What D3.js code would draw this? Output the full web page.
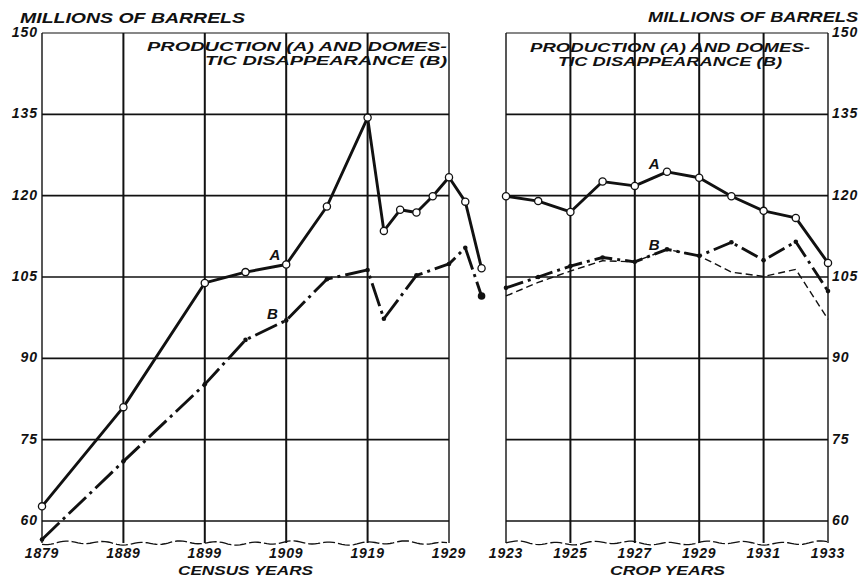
<!DOCTYPE html>
<html>
<head>
<meta charset="utf-8">
<script src="https://cdn.jsdelivr.net/npm/d3@7"></script>
<style>
  body { margin: 0; background: #fff; }
  text { font-family: "Liberation Sans", Arial, sans-serif; font-weight: bold; font-style: italic; fill: #111; }
</style>
</head>
<body>
<svg id="chart" width="862" height="578"></svg>
<script>
// census years panel (left)
var censusYears = [1879, 1889, 1899, 1904, 1909, 1914, 1919, 1921, 1923, 1925, 1927, 1929, 1931, 1933];
var censusA = [62.7, 81.0, 103.9, 105.9, 107.3, 118.0, 134.4, 113.5, 117.4, 116.9, 119.9, 123.4, 118.9, 106.6];
var censusBYears = [1879, 1889, 1899, 1904, 1909, 1914, 1919, 1921, 1925, 1929, 1931, 1933];
var censusB = [56.6, 71.0, 85.2, 93.4, 97.0, 104.6, 106.3, 97.3, 105.3, 107.4, 110.4, 101.5];
var censusTicks = [1879, 1889, 1899, 1909, 1919, 1929];

// crop years panel (right)
var cropYears = [1923, 1924, 1925, 1926, 1927, 1928, 1929, 1930, 1931, 1932, 1933];
var cropA = [119.9, 119.0, 117.0, 122.6, 121.8, 124.4, 123.3, 119.9, 117.2, 115.9, 107.6];
var cropB = [103.0, 105.0, 107.0, 108.6, 107.8, 110.1, 108.9, 111.4, 108.1, 111.5, 102.4];
var cropB2 = [101.5, 104.0, 106.1, 108.0, 107.8, 110.1, 108.9, 105.9, 105.1, 106.4, 97.2];
var cropTicks = [1923, 1925, 1927, 1929, 1931, 1933];

var yTicks = [60, 75, 90, 105, 120, 135, 150];

var svg = d3.select("#chart");
var y = d3.scaleLinear().domain([60, 150]).range([521, 33]);
var xL = d3.scaleLinear().domain([1879, 1929]).range([42, 449]);
var xR = d3.scaleLinear().domain([1923, 1933]).range([506, 828]);
var bottomY = 543;

function wavy(x0, x1, yb) {
    // torn bottom edge of the grid
    var pts = d3.range(x0, x1 + 0.1, 3).map(function(x) {
        return [x, yb + 1.4 * Math.sin(x / 6) + 0.8 * Math.sin(x / 17)];
    });
    return d3.line()(pts);
}

function drawPanel(x, ticks, side) {
    var g = svg.append("g");
    var x0 = x.range()[0], x1 = x.range()[1];

    // horizontal grid
    g.selectAll("line.h").data(yTicks).enter().append("line")
        .attr("x1", x0).attr("x2", x1)
        .attr("y1", function(d) { return y(d); })
        .attr("y2", function(d) { return y(d); })
        .attr("stroke", "#111")
        .attr("stroke-width", function(d) { return d === 150 ? 1.2 : 1.6; });

    // vertical grid
    g.selectAll("line.v").data(ticks).enter().append("line")
        .attr("x1", function(d) { return x(d); })
        .attr("x2", function(d) { return x(d); })
        .attr("y1", y(150)).attr("y2", bottomY)
        .attr("stroke", "#111")
        .attr("stroke-width", function(d, i) { return (i === 0 || i === ticks.length - 1) ? 1.4 : 2; });

    g.append("path")
        .attr("d", wavy(x0, x1, bottomY))
        .attr("fill", "none")
        .attr("stroke", "#111")
        .attr("stroke-width", 1.3)
        .attr("stroke-dasharray", "12,3");

    // y labels
    g.selectAll("text.y").data(yTicks).enter().append("text")
        .attr("x", side === "left" ? x0 - 4 : x1 + 4)
        .attr("y", function(d) { return y(d) + 4; })
        .attr("text-anchor", side === "left" ? "end" : "start")
        .attr("font-size", 14)
        .attr("letter-spacing", 1)
        .text(function(d) { return d; });

    // x labels
    g.selectAll("text.x").data(ticks).enter().append("text")
        .attr("x", function(d) { return x(d); })
        .attr("y", 558)
        .attr("text-anchor", "middle")
        .attr("font-size", 14)
        .attr("letter-spacing", 0.8)
        .text(function(d) { return d; });
    return g;
}

function drawLine(x, xs, ys, opts) {
    var pts = xs.map(function(d, i) { return [x(d), y(ys[i])]; });
    svg.append("path")
        .attr("d", d3.line()(pts))
        .attr("fill", "none")
        .attr("stroke", "#111")
        .attr("stroke-width", opts.width)
        .attr("stroke-dasharray", opts.dash || null)
        .attr("stroke-linejoin", "round");
    if (opts.marker === "open") {
        svg.selectAll(null).data(pts).enter().append("circle")
            .attr("cx", function(d) { return d[0]; })
            .attr("cy", function(d) { return d[1]; })
            .attr("r", 3.6)
            .attr("fill", "#fff")
            .attr("stroke", "#111")
            .attr("stroke-width", 1.3);
    } else if (opts.marker === "dot") {
        svg.selectAll(null).data(pts).enter().append("circle")
            .attr("cx", function(d) { return d[0]; })
            .attr("cy", function(d) { return d[1]; })
            .attr("r", 2.3)
            .attr("fill", "#111");
    }
}

drawPanel(xL, censusTicks, "left");
drawPanel(xR, cropTicks, "right");

drawLine(xL, censusBYears, censusB, {width: 2.9, dash: "24,5,3,5", marker: "dot"});
drawLine(xL, censusYears, censusA, {width: 2.9, marker: "open"});
svg.append("circle")
    .attr("cx", xL(censusBYears[censusBYears.length - 1]))
    .attr("cy", y(censusB[censusB.length - 1]))
    .attr("r", 3.8).attr("fill", "#111");

drawLine(xR, cropYears, cropB2, {width: 1.4, dash: "7,4"});
drawLine(xR, cropYears, cropB, {width: 2.9, dash: "18,5,3,5", marker: "dot"});
drawLine(xR, cropYears, cropA, {width: 2.9, marker: "open"});

// series letters
function letter(t, x, yy) {
    svg.append("text").attr("x", x).attr("y", yy)
        .attr("font-size", 15).attr("text-anchor", "middle").text(t);
}
letter("A", xL(1907.6), y(108.2));
letter("B", xL(1907.3), y(97.2));
letter("A", xR(1927.6), y(125.0));
letter("B", xR(1927.6), y(110.0));

// titles
function label(t, x, yy, len, size) {
    svg.append("text").attr("x", x).attr("y", yy)
        .attr("font-size", size)
        .attr("textLength", len).attr("lengthAdjust", "spacingAndGlyphs")
        .text(t);
}
label("MILLIONS OF BARRELS", 20, 23, 225, 15);
label("MILLIONS OF BARRELS", 648, 22, 210, 15);
label("PRODUCTION (A) AND DOMES-", 147, 51, 300, 13);
label("TIC DISAPPEARANCE (B)", 205, 65, 242, 13);
label("PRODUCTION (A) AND DOMES-", 530, 52, 280, 13);
label("TIC DISAPPEARANCE (B)", 558, 66, 224, 13);
label("CENSUS YEARS", 178, 575, 135, 13);
label("CROP YEARS", 610, 575, 115, 13);
</script>
</body>
</html>
